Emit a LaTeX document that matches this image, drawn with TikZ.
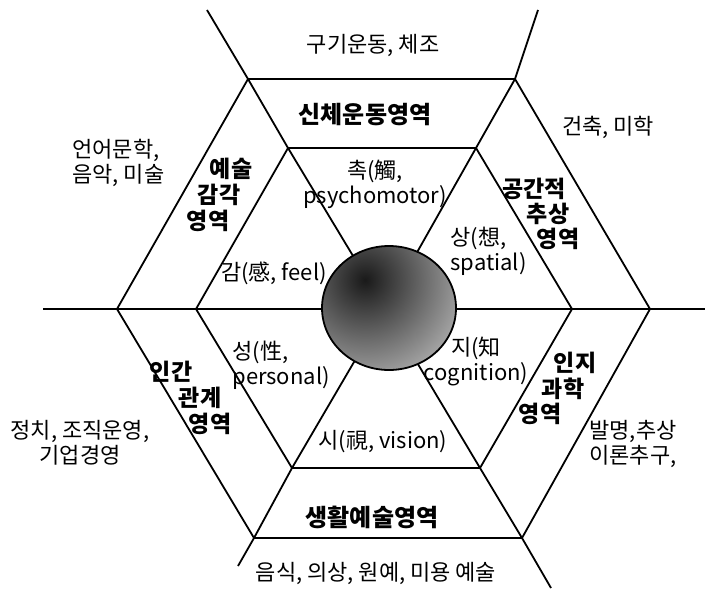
\documentclass[tikz,border=0pt]{standalone}
\usepackage{fontspec}
\setmainfont{Noto Sans CJK KR}
\begin{document}
\begin{tikzpicture}[
  x=0.5pt, y=-0.5pt,
  edge/.style={line width=0.9pt},
  txt/.style={font=\fontsize{11}{12.5}\selectfont, inner sep=0pt, align=center},
  area/.style={font=\bfseries\fontsize{11.5}{12}\selectfont, inner sep=0pt},
  band/.style={font=\bfseries\fontsize{12}{12}\selectfont, inner sep=0pt},
]
\useasboundingbox (0,0) rectangle (705,588);
\coordinate (c) at (385,309);
\coordinate (oTL) at (248,79);
\coordinate (oTR) at (515,79);
\coordinate (oR) at (650,309);
\coordinate (oBR) at (522,538);
\coordinate (oBL) at (254,538);
\coordinate (oL) at (117,309);
\coordinate (iTL) at (288,148);
\coordinate (iTR) at (476,148);
\coordinate (iR) at (572,309);
\coordinate (iBR) at (480,468);
\coordinate (iBL) at (292,468);
\coordinate (iL) at (196,309);
\coordinate (hA) at (43,309);
\coordinate (hB) at (705,309);
\coordinate (dA) at (207,10);
\coordinate (dB) at (551,588);
\coordinate (eA) at (538,10);
\coordinate (eB) at (238,566);

\draw[edge] (oTL) -- (oTR) -- (oR) -- (oBR) -- (oBL) -- (oL) -- cycle;
\draw[edge] (iTL) -- (iTR) -- (iR) -- (iBR) -- (iBL) -- (iL) -- cycle;
\draw[edge] (hA) -- (hB);
\draw[edge] (dA) -- (oTL) -- (iTL) -- (c) -- (iBR) -- (oBR) -- (dB);
\draw[edge] (eA) -- (oTR) -- (iTR) -- (c) -- (iBL) -- (oBL) -- (eB);

\begin{scope}
  \clip (389,308) ellipse (67 and 62);
  \shade[inner color=black!90, outer color=gray!40] (365,280) circle (130);
\end{scope}
\draw[edge] (389,308) ellipse (67 and 62);

\node[txt] (sport) at (373,45) {구기운동, 체조};
\node[band] (body) at (365,115) {신체운동영역};
\node[txt] (touch) at (375,184.5) {촉(觸,\\psychomotor)};
\node[txt] (archi) at (608,127) {건축, 미학};
\node[txt, anchor=west, align=left] (lit) at (72,162.5) {언어문학,\\음악, 미술};
\node[area] (arts1) at (231,169) {예술};
\node[area] (arts2) at (219,195) {감각};
\node[area] (arts3) at (208,221) {영역};
\node[area] (space1) at (534,189) {공간적};
\node[area] (space2) at (548,214) {추상};
\node[area] (space3) at (558,239) {영역};
\node[txt, anchor=west, align=left] (idea) at (450,251.5) {상(想,\\spatial)};
\node[txt] (feel) at (274,273) {감(感, feel)};
\node[txt, anchor=west, align=left] (nature) at (232,365.5) {성(性,\\personal)};
\node[area] (human1) at (171,372) {인간};
\node[area] (human2) at (200,398) {관계};
\node[area] (human3) at (210,424) {영역};
\node[txt] (politics) at (80,443) {정치, 조직운영,\\기업경영};
\node[txt] (know) at (476,361.5) {지(知\\cognition)};
\node[area] (cog1) at (575,363) {인지};
\node[area] (cog2) at (563,389) {과학};
\node[area] (cog3) at (540,414) {영역};
\node[txt, anchor=west, align=left] (invent) at (589,443.5) {발명,추상\\이론추구,};
\node[txt] (vision) at (383,442) {시(視, vision)};
\node[band] (life) at (372,517) {생활예술영역};
\node[txt] (food) at (376,573) {음식, 의상, 원예, 미용 예술};
\end{tikzpicture}
\end{document}
